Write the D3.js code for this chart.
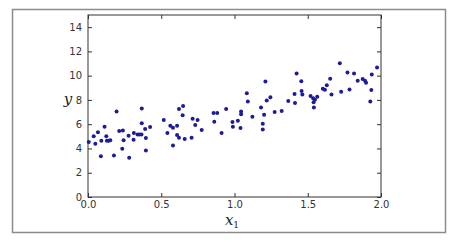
<!doctype html>
<html lang="en">
<head>
  <meta charset="UTF-8">
  <title>Linear data</title>
  <script src="https://cdn.jsdelivr.net/npm/d3@7"></script>
</head>
<body style="margin: 0; background: white">
<div id="container"></div>
<script type="text/javascript">
// scatter points
var xs = [0.005, 0.039, 0.05, 0.068, 0.088, 0.091, 0.113, 0.125, 0.129, 0.141, 0.152, 0.177, 0.195,
  0.213, 0.234, 0.238, 0.243, 0.277, 0.281, 0.311, 0.313, 0.338, 0.351, 0.365, 0.367, 0.367, 0.39,
  0.395, 0.395, 0.424, 0.517, 0.542, 0.562, 0.58, 0.58, 0.608, 0.608, 0.621, 0.621, 0.646, 0.649,
  0.66, 0.707, 0.714, 0.732, 0.748, 0.776, 0.857, 0.862, 0.882, 0.912, 0.943, 0.986, 0.989, 1.023,
  1.041, 1.045, 1.045, 1.084, 1.091, 1.122, 1.181, 1.193, 1.193, 1.202, 1.211, 1.22, 1.245, 1.274,
  1.322, 1.367, 1.41, 1.413, 1.424, 1.456, 1.458, 1.463, 1.519, 1.537, 1.54, 1.542, 1.549, 1.565,
  1.603, 1.617, 1.63, 1.653, 1.662, 1.719, 1.728, 1.771, 1.785, 1.816, 1.841, 1.875, 1.891, 1.898,
  1.927, 1.934, 1.937, 1.973];
var ys = [4.53, 5.0, 4.39, 5.33, 3.35, 4.64, 5.79, 5.0, 4.64, 4.64, 4.67, 3.43, 7.05,
  5.43, 3.98, 5.49, 4.67, 5.05, 3.24, 4.72, 5.27, 5.16, 5.16, 5.16, 7.3, 6.07, 5.6,
  4.86, 3.84, 5.76, 6.34, 5.27, 5.87, 5.71, 4.25, 5.87, 5.1, 7.25, 4.89, 6.73, 7.49,
  4.78, 4.89, 6.45, 5.93, 6.34, 5.52, 6.92, 6.2, 6.92, 5.27, 7.25, 6.18, 5.79, 6.29,
  5.68, 7.05, 6.81, 8.56, 7.88, 6.62, 7.38, 6.04, 5.57, 6.78, 9.52, 7.96, 8.23, 7.0,
  7.08, 7.91, 8.48, 7.74, 10.18, 9.55, 8.73, 8.45, 8.32, 8.13, 7.8, 7.38, 8.02, 8.26,
  8.92, 8.84, 9.2, 9.75, 8.45, 11.03, 8.67, 10.27, 8.87, 10.18, 9.58, 9.72, 9.58, 9.42,
  7.88, 8.81, 10.1, 10.68];
var xTicks = [0, 0.5, 1.0, 1.5, 2.0];
var yTicks = [0, 2, 4, 6, 8, 10, 12, 14];

var W = 452, H = 242;
var plotLeft = 88, plotRight = 381, plotTop = 15, plotBottom = 197;

var svg = d3.select('#container').append('svg')
  .attr('width', W)
  .attr('height', H);

// outer picture frame
svg.append('rect')
  .attr('x', 12.5).attr('y', 9.5)
  .attr('width', 433).attr('height', 223)
  .attr('fill', 'white')
  .attr('stroke', '#8c8c8c')
  .attr('stroke-width', 1.5);

var x = d3.scaleLinear().domain([0, 2]).range([plotLeft, plotRight]);
var y = d3.scaleLinear().domain([0, 15]).range([plotBottom, plotTop]);

var font = 'DejaVu Sans, sans-serif';

// axes with inward ticks, matplotlib classic look
var bottomAxis = svg.append('g')
  .attr('transform', 'translate(0,' + plotBottom + ')')
  .call(d3.axisBottom(x).tickValues(xTicks).tickFormat(d3.format('.1f')).tickSizeInner(-4).tickSizeOuter(0).tickPadding(4));
var topAxis = svg.append('g')
  .attr('transform', 'translate(0,' + plotTop + ')')
  .call(d3.axisTop(x).tickValues(xTicks).tickFormat('').tickSizeInner(-4).tickSizeOuter(0));
var leftAxis = svg.append('g')
  .attr('transform', 'translate(' + plotLeft + ',0)')
  .call(d3.axisLeft(y).tickValues(yTicks).tickFormat(d3.format('d')).tickSizeInner(-4).tickSizeOuter(0).tickPadding(6));
var rightAxis = svg.append('g')
  .attr('transform', 'translate(' + plotRight + ',0)')
  .call(d3.axisRight(y).tickValues(yTicks).tickFormat('').tickSizeInner(-4).tickSizeOuter(0));

[bottomAxis, topAxis, leftAxis, rightAxis].forEach(function(g) {
  g.select('.domain').remove();
  g.selectAll('line').attr('stroke', '#333');
  g.selectAll('text').attr('fill', '#333').style('font-family', font).style('font-size', '10px');
});

// spines
svg.append('rect')
  .attr('x', plotLeft).attr('y', plotTop)
  .attr('width', plotRight - plotLeft).attr('height', plotBottom - plotTop)
  .attr('fill', 'none')
  .attr('stroke', '#333')
  .attr('stroke-width', 1);

svg.selectAll('.pt').data(xs)
  .enter()
  .append('circle')
  .attr('class', 'pt')
  .attr('cx', function(d) { return x(d) })
  .attr('cy', function(d, i) { return y(ys[i]) })
  .attr('r', 2)
  .attr('fill', '#1c1c9a');

// axis labels
svg.append('text')
  .attr('x', 68).attr('y', 104)
  .attr('text-anchor', 'middle')
  .style('font-family', 'DejaVu Serif, serif')
  .style('font-style', 'italic')
  .style('font-size', '15px')
  .attr('fill', '#222')
  .text('y');

var xl = svg.append('text')
  .attr('x', 232).attr('y', 225)
  .attr('text-anchor', 'middle')
  .style('font-family', 'DejaVu Serif, serif')
  .style('font-style', 'italic')
  .style('font-size', '15px')
  .attr('fill', '#222');
xl.append('tspan').text('x');
xl.append('tspan').attr('dy', 3).style('font-style', 'normal').style('font-size', '9px').text('1');
</script>
</body>
</html>
